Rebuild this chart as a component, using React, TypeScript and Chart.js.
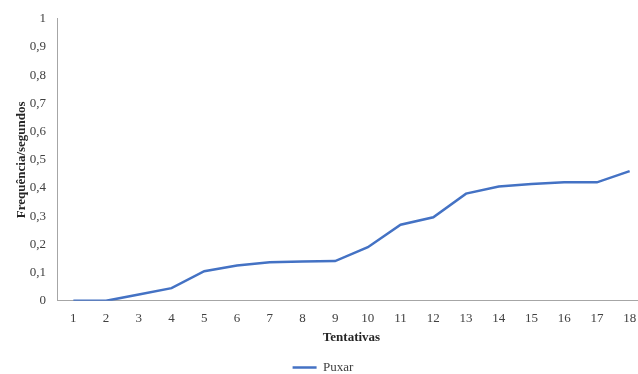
import React, { useEffect, useRef } from "react";
import { Chart, registerables } from "chart.js";

Chart.register(...registerables);

const tentativas: string[] = ["1", "2", "3", "4", "5", "6", "7", "8", "9", "10", "11", "12", "13", "14", "15", "16", "17", "18"];
const puxar: number[] = [0, 0, 0.022, 0.045, 0.105, 0.125, 0.137, 0.139, 0.141, 0.19, 0.27, 0.296, 0.38, 0.405, 0.414, 0.42, 0.42, 0.46];
const seriesLabel = "Puxar";
const yTitle = "Frequência/segundos";
const xTitle = "Tentativas";

const FONT = "'Liberation Serif', 'Times New Roman', serif";

export default function App() {
  const canvasRef = useRef<HTMLCanvasElement | null>(null);

  useEffect(() => {
    document.body.style.margin = "0";
    document.body.style.overflow = "hidden";
    const canvas = canvasRef.current;
    if (!canvas) return;
    const chart = new Chart(canvas, {
      type: "line",
      data: {
        labels: tentativas,
        datasets: [
          {
            label: seriesLabel,
            data: puxar,
            borderColor: "#4472C4",
            backgroundColor: "#4472C4",
            borderWidth: 2.5,
            pointRadius: 0,
            tension: 0,
          },
        ],
      },
      options: {
        animation: false,
        responsive: false,
        maintainAspectRatio: false,
        layout: { padding: { top: 9, right: 4, left: 0, bottom: -10 } },
        plugins: {
          tooltip: { enabled: false },
          legend: {
            position: "bottom",
            labels: {
              usePointStyle: true,
              pointStyle: "line",
              pointStyleWidth: 24,
              color: "#404040",
              font: { family: FONT, size: 13 },
              padding: 1,
            },
          },
        },
        scales: {
          x: {
            offset: true,
            grid: { display: false, drawTicks: false },
            border: { display: true, color: "#a6a6a6", width: 1 },
            ticks: {
              color: "#404040",
              font: { family: FONT, size: 13 },
              padding: 10,
              maxRotation: 0,
              autoSkip: false,
            },
            title: {
              display: true,
              text: xTitle,
              color: "#262626",
              font: { family: FONT, size: 13, weight: "bold" },
              padding: { top: -7, bottom: 15 },
            },
          },
          y: {
            min: 0,
            max: 1,
            grid: { display: false, drawTicks: false },
            border: { display: true, color: "#a6a6a6", width: 1 },
            afterFit: (scale: any) => {
              scale.width = 57;
            },
            ticks: {
              stepSize: 0.1,
              color: "#404040",
              font: { family: FONT, size: 13 },
              padding: 11,
              callback: (v: any) => {
                const n = Math.round(Number(v) * 10) / 10;
                return String(n).replace(".", ",");
              },
            },
            title: {
              display: true,
              text: yTitle,
              color: "#262626",
              font: { family: FONT, size: 13, weight: "bold" },
              padding: { top: 14, bottom: 0 },
            },
          },
        },
      },
    });
    return () => chart.destroy();
  }, []);

  return (
    <div style={{ position: "fixed", left: 0, top: 0, width: 638, height: 374, overflow: "hidden", background: "#fff" }}>
      <canvas ref={canvasRef} width={650} height={374} style={{ display: "block" }} />
    </div>
  );
}
